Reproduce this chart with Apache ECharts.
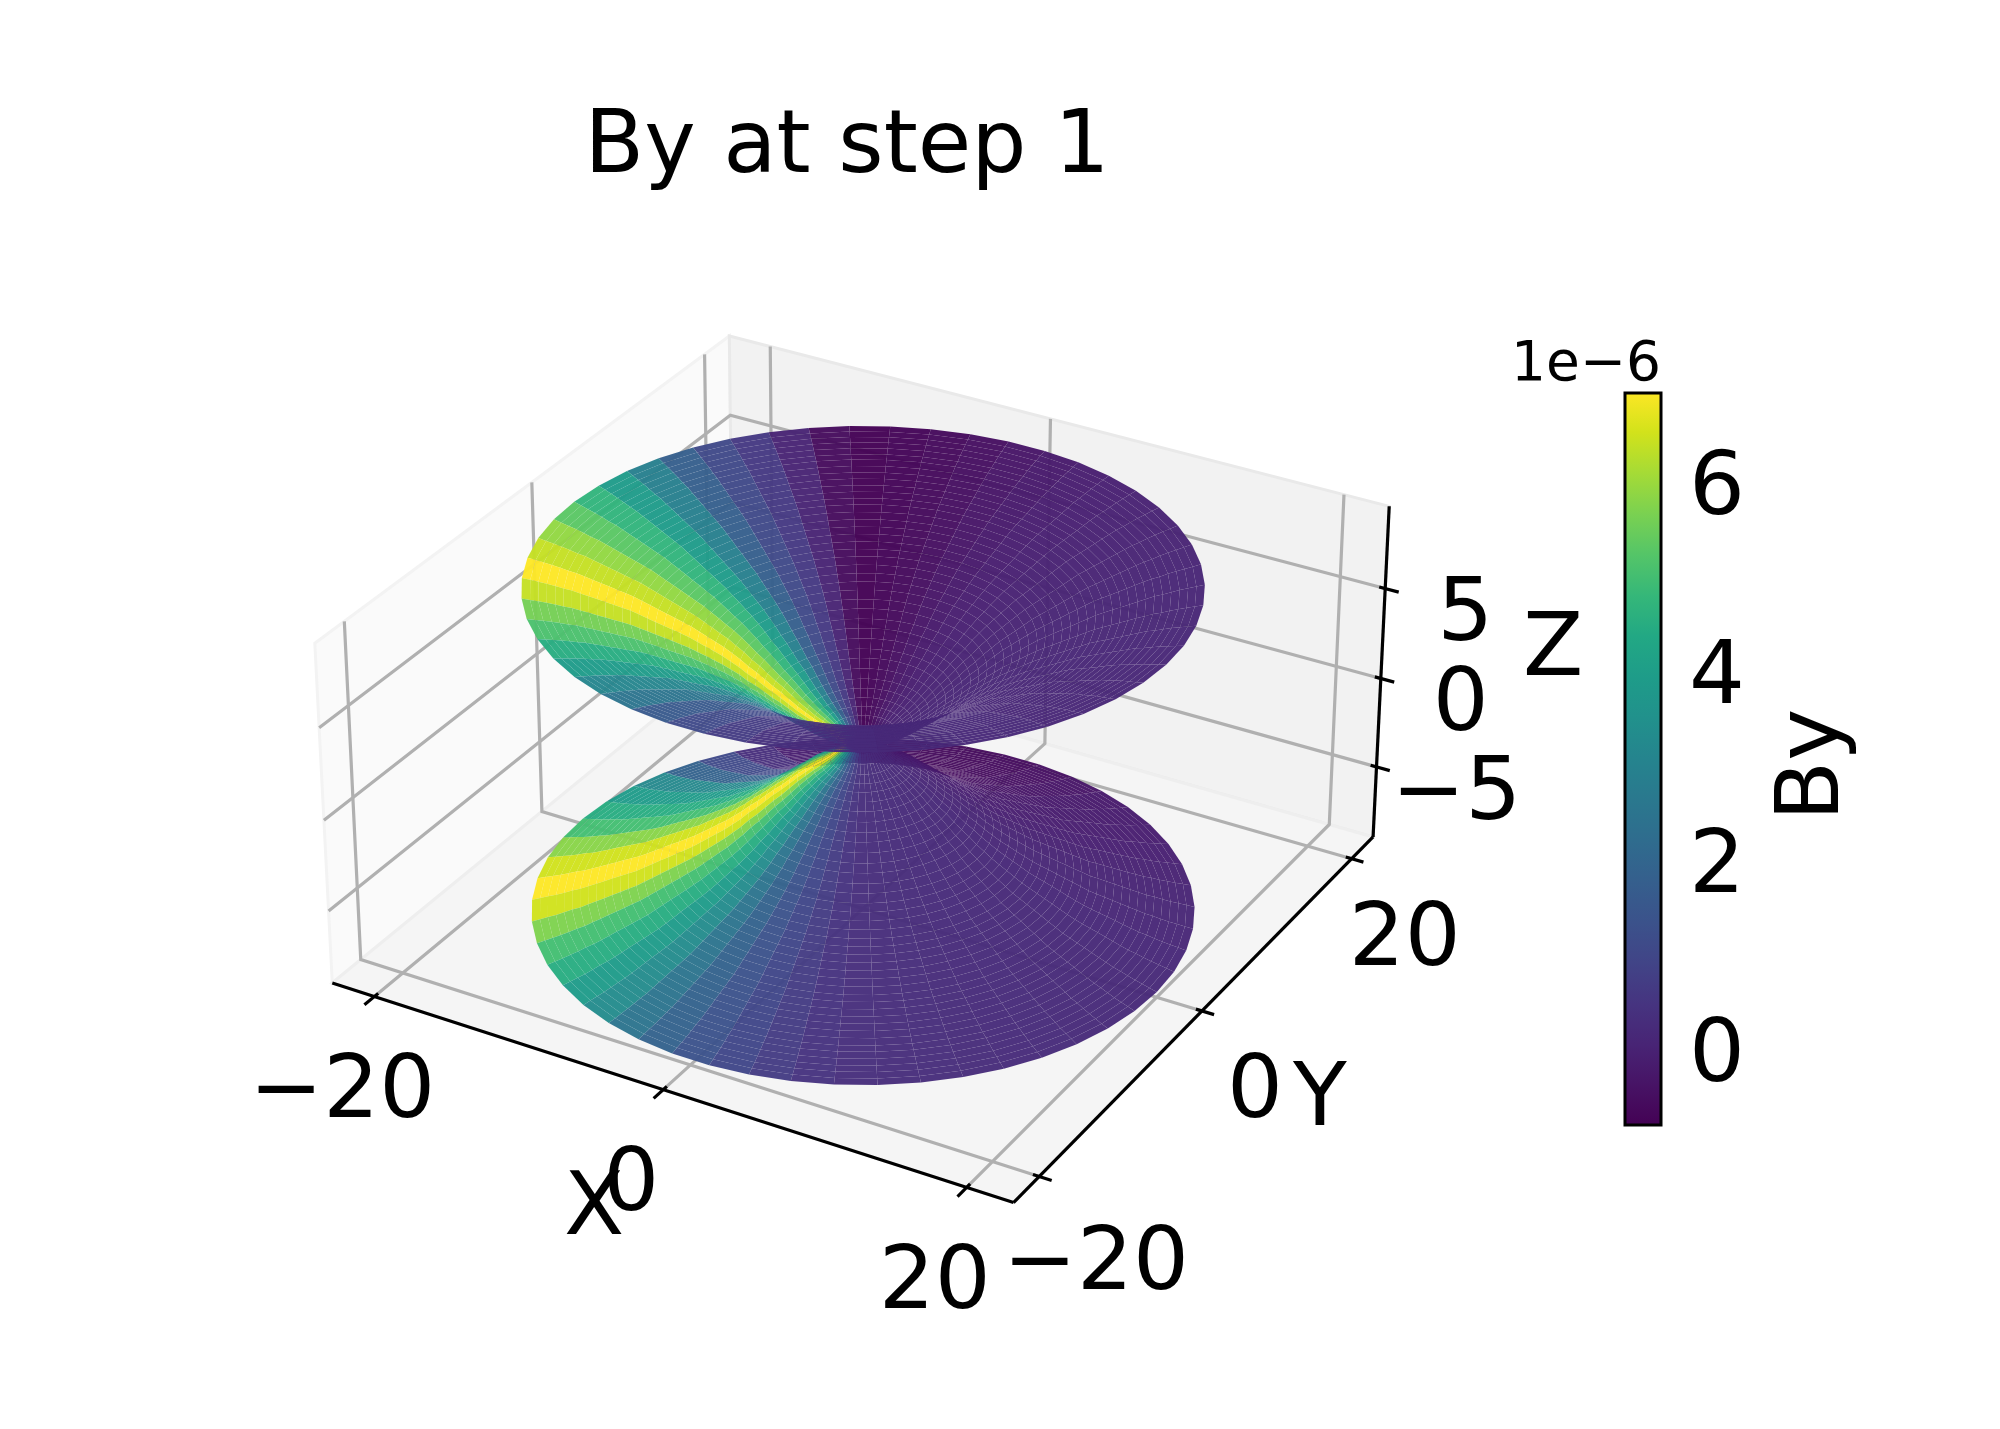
<!DOCTYPE html>
<html>
<head>
<meta charset="utf-8">
<style>html,body{margin:0;padding:0;background:#fff}#chart{width:2000px;height:1429px}</style>
<script src="https://cdn.jsdelivr.net/npm/echarts@6/dist/echarts.min.js"></script>
</head>
<body>
<div id="chart"></div>
<script>
// surface profile, from the throat out to the rim (the lower funnel mirrors it)
const ringRadius = [1.00, 1.49, 1.97, 2.46, 2.95, 3.44, 3.92, 4.41, 4.90, 5.38, 5.87, 6.36, 6.85, 7.33, 7.82, 8.31, 8.80, 9.28, 9.77, 10.26,
    10.74, 11.23, 11.72, 12.21, 12.69, 13.18, 13.67, 14.15, 14.64, 15.13, 15.62, 16.10, 16.59, 17.08, 17.56, 18.05, 18.54, 19.03, 19.51, 20.00];
const ringHeight = [0.00, 0.38, 0.72, 1.00, 1.25, 1.55, 1.85, 2.20, 2.55, 2.85, 3.20, 3.55, 3.85, 4.20, 4.50, 4.80, 5.05, 5.30, 5.55, 5.80,
    6.00, 6.20, 6.40, 6.60, 6.80, 7.00, 7.20, 7.35, 7.50, 7.65, 7.80, 7.95, 8.10, 8.25, 8.35, 8.48, 8.60, 8.70, 8.80, 8.90];
const surfaceLift = 0.175;
// By (1e-6) per 7.2 degree sector, starting at azimuth 0
const byUpper = [0.15, 0.15, 0.12, 0.10, 0.10, 0.08, 0.05, 0.03, 0.00, -0.05, -0.10, -0.20, -0.30, -0.45, -0.60, -0.72,
    -0.79, -0.55, 0.05, 0.60, 1.07, 1.80, 2.90, 3.90, 4.70, 5.30, 5.90, 6.40, 6.95, 6.40, 5.60, 5.10, 4.50, 3.90, 3.10, 2.50,
    1.60, 1.10, 0.70, 0.40, 0.30, 0.25, 0.20, 0.20, 0.18, 0.18, 0.16, 0.16, 0.15, 0.15];
const byLower = [0.20, 0.18, 0.16, 0.12, 0.08, 0.02, -0.05, -0.10, -0.15, -0.20, -0.30, -0.40, -0.50, -0.55, -0.55, -0.50,
    -0.40, -0.30, -0.10, 0.35, 1.10, 1.90, 3.20, 3.90, 4.50, 5.00, 5.80, 6.50, 6.95, 6.50, 5.70, 5.00, 4.50, 3.90, 3.30, 2.50,
    1.90, 1.35, 1.00, 0.70, 0.45, 0.35, 0.32, 0.30, 0.28, 0.26, 0.25, 0.23, 0.22, 0.20];
const xTicks = [-20, 0, 20];
const yTicks = [-20, 0, 20];
const zTicks = [-5, 0, 5];
const barTicks = [0, 2, 4, 6];
const byMin = -0.79, byMax = 6.95;
const viridis = ['#440154', '#471365', '#482475', '#463480', '#414487', '#3b528b', '#355f8d', '#2f6c8e', '#2a788e', '#25848e',
    '#21918c', '#1e9c89', '#22a884', '#35b779', '#54c568', '#7ad151', '#a5db36', '#d2e21b', '#fde725'];

const xLim = [-23, 23], yLim = [-23, 23], zLim = [-9.02, 9.5];
const sectorStep = 7.2 * Math.PI / 180;

// same camera as mplot3d: elev 30, azim -60, dist 10, box 1:1:0.5
const elev = 30 * Math.PI / 180, azim = -60 * Math.PI / 180, camDist = 10;
const boxX = 0.63523, boxZ = 0.31762;
const wv = [Math.cos(elev) * Math.cos(azim), Math.cos(elev) * Math.sin(azim), Math.sin(elev)];
const uv = [-Math.sin(azim), Math.cos(azim), 0];
const vv = [wv[1] * uv[2] - wv[2] * uv[1], wv[2] * uv[0] - wv[0] * uv[2], wv[0] * uv[1] - wv[1] * uv[0]];

function project(x, y, z) {
    const nx = (x - (xLim[0] + xLim[1]) / 2) / ((xLim[1] - xLim[0]) / 2) * boxX;
    const ny = (y - (yLim[0] + yLim[1]) / 2) / ((yLim[1] - yLim[0]) / 2) * boxX;
    const nz = (z - (zLim[0] + zLim[1]) / 2) / ((zLim[1] - zLim[0]) / 2) * boxZ;
    const u = uv[0] * nx + uv[1] * ny;
    const v = vv[0] * nx + vv[1] * ny + vv[2] * nz;
    const w = wv[0] * nx + wv[1] * ny + wv[2] * nz;
    return [u / (camDist - w), v / (camDist - w), w];
}

function byColor(val) {
    return echarts.color.lerp((val - byMin) / (byMax - byMin), viridis);
}

function ringPoint(ring, k, sign) {
    const a = k * sectorStep;
    return project(ringRadius[ring] * Math.cos(a), ringRadius[ring] * Math.sin(a), sign * ringHeight[ring] + surfaceLift);
}

// one funnel, sorted back to front on its own
function funnelFacets(sign, byValues) {
    const out = [];
    for (let i = 0; i < ringRadius.length - 1; i++) {
        for (let k = 0; k < byValues.length; k++) {
            const pts = [ringPoint(i, k, sign), ringPoint(i, k + 1, sign), ringPoint(i + 1, k + 1, sign), ringPoint(i + 1, k, sign)];
            out.push({
                depth: (pts[0][2] + pts[1][2] + pts[2][2] + pts[3][2]) / 4,
                row: [pts[0][0], pts[0][1], pts[1][0], pts[1][1], pts[2][0], pts[2][1], pts[3][0], pts[3][1], byValues[k]]
            });
        }
    }
    return out.sort((a, b) => a.depth - b.depth);
}
const facets = funnelFacets(-1, byLower).concat(funnelFacets(1, byUpper));

function flat(points) {
    const out = [];
    points.forEach(p => out.push(p[0], p[1]));
    return out;
}

const panes = [
    { fill: '#fafafa', edge: '#f3f3f3', row: flat([project(xLim[0], yLim[0], zLim[0]), project(xLim[0], yLim[1], zLim[0]), project(xLim[0], yLim[1], zLim[1]), project(xLim[0], yLim[0], zLim[1])]) },
    { fill: '#f2f2f2', edge: '#e9e9e9', row: flat([project(xLim[0], yLim[1], zLim[0]), project(xLim[1], yLim[1], zLim[0]), project(xLim[1], yLim[1], zLim[1]), project(xLim[0], yLim[1], zLim[1])]) },
    { fill: '#f5f5f5', edge: '#eeeeee', row: flat([project(xLim[0], yLim[0], zLim[0]), project(xLim[1], yLim[0], zLim[0]), project(xLim[1], yLim[1], zLim[0]), project(xLim[0], yLim[1], zLim[0])]) }
];

// grid lines run over the floor and the two back walls
const gridRows = [];
xTicks.forEach(t => gridRows.push(flat([project(t, yLim[0], zLim[0]), project(t, yLim[1], zLim[0]), project(t, yLim[1], zLim[1])])));
yTicks.forEach(t => gridRows.push(flat([project(xLim[1], t, zLim[0]), project(xLim[0], t, zLim[0]), project(xLim[0], t, zLim[1])])));
zTicks.forEach(t => gridRows.push(flat([project(xLim[0], yLim[0], t), project(xLim[0], yLim[1], t), project(xLim[1], yLim[1], t)])));

const axisRows = [
    flat([project(xLim[0], yLim[0], zLim[0]), project(xLim[1], yLim[0], zLim[0])]),
    flat([project(xLim[1], yLim[0], zLim[0]), project(xLim[1], yLim[1], zLim[0])]),
    flat([project(xLim[1], yLim[1], zLim[0]), project(xLim[1], yLim[1], zLim[1])])
];
xTicks.forEach(t => axisRows.push(flat([project(t, yLim[0] + 0.4, zLim[0]), project(t, yLim[0] - 1.05, zLim[0])])));
yTicks.forEach(t => axisRows.push(flat([project(xLim[1] - 0.4, t, zLim[0]), project(xLim[1] + 0.8, t, zLim[0])])));
zTicks.forEach(t => axisRows.push(flat([project(xLim[1] - 0.4, yLim[1], t), project(xLim[1] + 0.9, yLim[1], t)])));

const fmt = t => String(t).replace('-', '\u2212');
const textRows = [];
function addText(text, p, dx, dy) {
    textRows.push({ value: [p[0], p[1], dx, dy], text: text });
}
xTicks.forEach(t => addText(fmt(t), project(t, yLim[0], zLim[0]), -32, 98));
yTicks.forEach(t => addText(fmt(t), project(xLim[1], t, zLim[0]), t < 0 ? 57 : 53, t < 0 ? 90 : 83));
zTicks.forEach(t => addText(fmt(t), project(xLim[1], yLim[1], t), 80, 29));
addText('X', project(0, yLim[0], zLim[0]), -69, 122);
addText('Y', project(xLim[1], 0, zLim[0]), 118, 91);
addText('Z', project(xLim[1], yLim[1], (zLim[0] + zLim[1]) / 2), 172, -22);

// colour bar labels sit in the second grid
const barRows = barTicks.map(t => ({ value: [1, t, 56, 8, 0], text: String(t) }));
barRows.push({ value: [1, (byMin + byMax) / 2, 154, 6, Math.PI / 2], text: 'By' });

function polygonItem(api, n) {
    const points = [];
    for (let i = 0; i < n; i++) points.push(api.coord([api.value(i * 2), api.value(i * 2 + 1)]));
    return points;
}

const option = {
    animation: false,
    backgroundColor: '#ffffff',
    title: [
        { text: 'By at step 1', left: 842, top: 101, textAlign: 'center', textStyle: { fontFamily: 'DejaVu Sans', fontSize: 87, fontWeight: 'normal', color: '#000' } },
        { text: '1e\u22126', left: 1656, top: 333, textAlign: 'right', textStyle: { fontFamily: 'DejaVu Sans', fontSize: 55, fontWeight: 'normal', color: '#000' } }
    ],
    grid: [
        { left: 0, top: 0, width: 2000, height: 1429 },
        { left: 1625, top: 393, width: 36, height: 732 }
    ],
    xAxis: [
        { gridIndex: 0, type: 'value', min: -863 / 6090, max: 1137 / 6090, show: false },
        { gridIndex: 1, type: 'value', min: 0, max: 1, show: false }
    ],
    yAxis: [
        { gridIndex: 0, type: 'value', min: -685.4 / 6090, max: 743.6 / 6090, show: false },
        {
            gridIndex: 1, type: 'value', min: byMin, max: byMax, position: 'right',
            axisLine: { show: false },
            splitLine: { show: false },
            axisTick: { show: true, length: 13, customValues: barTicks, lineStyle: { color: '#000', width: 3 } },
            axisLabel: { show: false }
        }
    ],
    series: [
        {
            type: 'custom', coordinateSystem: 'cartesian2d', silent: true, clip: false, z: 1,
            data: panes.map(p => p.row),
            renderItem(params, api) {
                const p = panes[params.dataIndex];
                return { type: 'polygon', shape: { points: polygonItem(api, 4) }, style: { fill: p.fill, stroke: p.edge, lineWidth: 3 } };
            }
        },
        {
            type: 'custom', coordinateSystem: 'cartesian2d', silent: true, clip: false, z: 2,
            data: gridRows,
            renderItem(params, api) {
                return { type: 'polyline', shape: { points: polygonItem(api, 3) }, style: { fill: 'none', stroke: '#b0b0b0', lineWidth: 3.2 } };
            }
        },
        {
            type: 'custom', coordinateSystem: 'cartesian2d', silent: true, clip: false, z: 3,
            data: axisRows,
            renderItem(params, api) {
                return { type: 'polyline', shape: { points: polygonItem(api, 2) }, style: { fill: 'none', stroke: '#000', lineWidth: 3.2 } };
            }
        },
        {
            type: 'custom', coordinateSystem: 'cartesian2d', silent: true, clip: false, z: 4, progressive: 0,
            data: facets.map(f => f.row),
            renderItem(params, api) {
                return {
                    type: 'polygon', shape: { points: polygonItem(api, 4) },
                    style: { fill: byColor(api.value(8)), opacity: 0.96 }
                };
            }
        },
        {
            type: 'custom', coordinateSystem: 'cartesian2d', silent: true, clip: false, z: 5,
            data: textRows,
            renderItem(params, api) {
                const c = api.coord([api.value(0), api.value(1)]);
                return {
                    type: 'text',
                    style: {
                        text: textRows[params.dataIndex].text, x: c[0] + api.value(2), y: c[1] + api.value(3),
                        font: '88px "DejaVu Sans"', fill: '#000', textAlign: 'center', textVerticalAlign: 'middle'
                    }
                };
            }
        },
        {
            type: 'custom', coordinateSystem: 'cartesian2d', xAxisIndex: 1, yAxisIndex: 1, silent: true, clip: false, z: 5,
            data: barRows,
            renderItem(params, api) {
                const c = api.coord([api.value(0), api.value(1)]);
                return {
                    type: 'text',
                    x: c[0] + api.value(2), y: c[1] + api.value(3), rotation: api.value(4),
                    style: {
                        text: barRows[params.dataIndex].text, x: 0, y: 0,
                        font: '88px "DejaVu Sans"', fill: '#000', textAlign: 'center', textVerticalAlign: 'middle'
                    }
                };
            }
        },
        {
            type: 'custom', coordinateSystem: 'cartesian2d', xAxisIndex: 1, yAxisIndex: 1, silent: true, clip: false, z: 4,
            data: [[0, byMin, 1, byMax]],
            renderItem(params, api) {
                const a = api.coord([api.value(0), api.value(3)]);
                const b = api.coord([api.value(2), api.value(1)]);
                return {
                    type: 'rect', shape: { x: a[0], y: a[1], width: b[0] - a[0], height: b[1] - a[1] },
                    style: {
                        stroke: '#000', lineWidth: 3,
                        fill: new echarts.graphic.LinearGradient(0, 1, 0, 0, viridis.map((c, i) => ({ offset: i / (viridis.length - 1), color: c })))
                    }
                };
            }
        }
    ]
};

const chart = echarts.init(document.getElementById('chart'), null, { renderer: 'canvas' });
chart.setOption(option);
</script>
</body>
</html>
